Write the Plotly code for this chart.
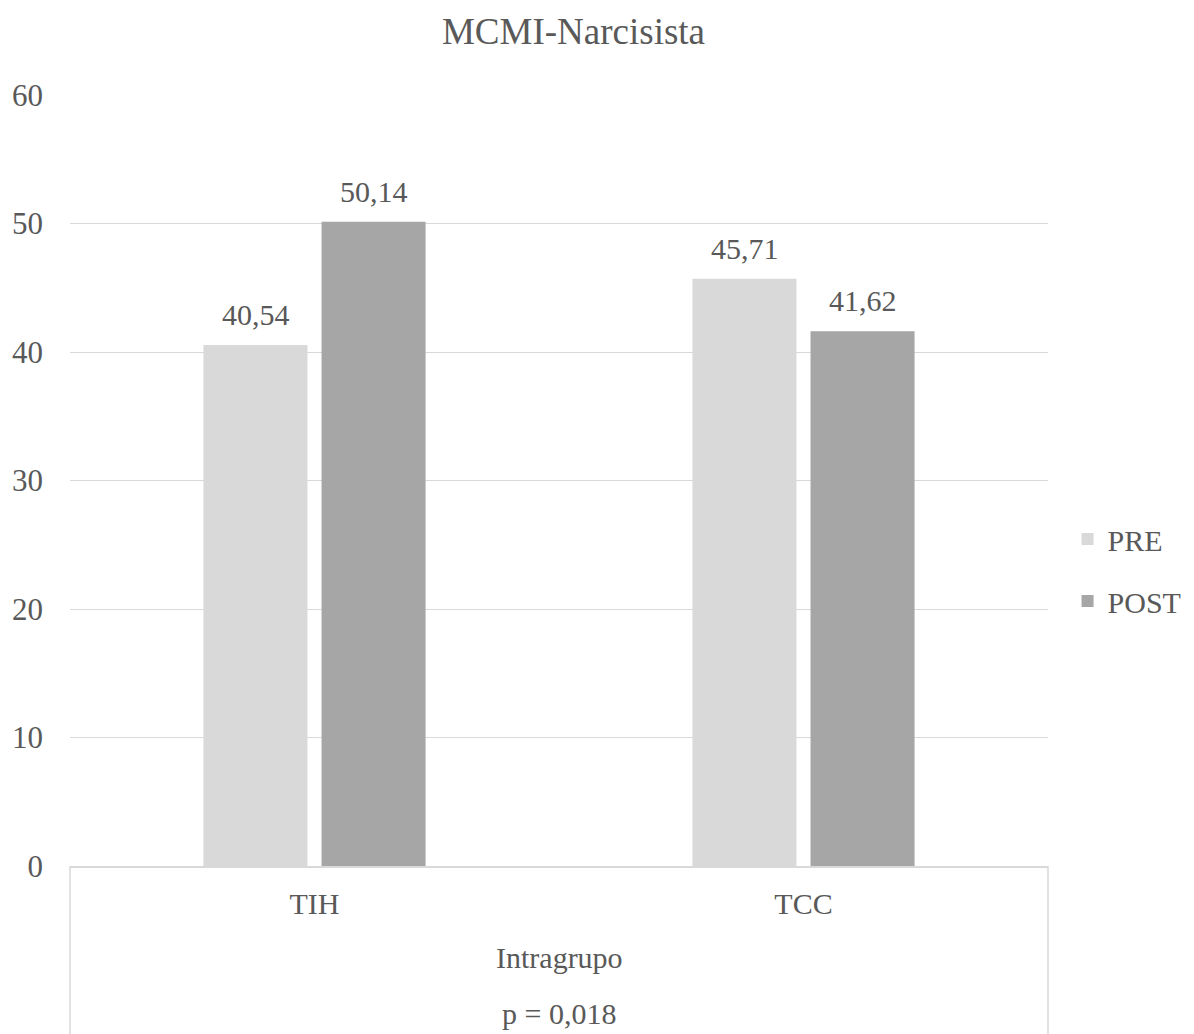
import plotly.graph_objects as go

categories = ["TIH", "TCC"]
pre_values = [40.54, 45.71]
post_values = [50.14, 41.62]
pre_labels = ["40,54", "45,71"]
post_labels = ["50,14", "41,62"]
series_names = ["PRE", "POST"]
y_ticks = [0, 10, 20, 30, 40, 50, 60]
title_text = "MCMI-Narcisista"
group_label = "Intragrupo"
p_label = "p = 0,018"

FONT = "Liberation Serif, Times New Roman, serif"
TXT = "#595959"
GRID = "#d9d9d9"

W, H = 1194, 1034
ML, MR, MT, MB = 70, 146, 95, 168
plot_h = H - MT - MB

def py(ypix):
    return (H - MB - ypix) / plot_h

BAR_SHIFT = 59  # px offset of each bar from its category centre

fig = go.Figure()
fig.add_trace(go.Bar(
    x=categories, y=pre_values, name=series_names[0],
    marker=dict(color="#d9d9d9", line=dict(width=0)),
    legendgroup="a",
))
fig.add_trace(go.Bar(
    x=categories, y=post_values, name=series_names[1],
    marker=dict(color="#a6a6a6", line=dict(width=0)),
    legendgroup="b",
))

annotations = []
for cat, v, lab in zip(categories, pre_values, pre_labels):
    annotations.append(dict(text=lab, x=cat, y=v, xref="x", yref="y",
                            xshift=-BAR_SHIFT, yshift=12, xanchor="center",
                            yanchor="bottom", showarrow=False,
                            font=dict(family=FONT, size=30, color=TXT)))
for cat, v, lab in zip(categories, post_values, post_labels):
    annotations.append(dict(text=lab, x=cat, y=v, xref="x", yref="y",
                            xshift=BAR_SHIFT, yshift=12, xanchor="center",
                            yanchor="bottom", showarrow=False,
                            font=dict(family=FONT, size=30, color=TXT)))
annotations += [
    dict(text=group_label, xref="paper", yref="paper", x=0.5, y=py(957),
         xanchor="center", yanchor="middle", showarrow=False,
         font=dict(family=FONT, size=30, color=TXT)),
    dict(text=p_label, xref="paper", yref="paper", x=0.5, y=py(1013),
         xanchor="center", yanchor="middle", showarrow=False,
         font=dict(family=FONT, size=30, color=TXT)),
]

fig.update_layout(
    width=W, height=H,
    margin=dict(l=ML, r=MR, t=MT, b=MB, autoexpand=False),
    paper_bgcolor="white", plot_bgcolor="white",
    font=dict(family=FONT, size=30, color=TXT),
    barmode="group", bargap=0.517, bargroupgap=0.119,
    title=dict(text=title_text, x=573.5 / W, xref="container", xanchor="center",
               y=1 - 31 / H, yref="container", yanchor="middle",
               font=dict(family=FONT, size=37, color=TXT)),
    legend=dict(x=1.02, xanchor="left", y=py(570), yanchor="middle",
                font=dict(family=FONT, size=30, color=TXT),
                traceorder="grouped", tracegroupgap=20,
                bgcolor="rgba(0,0,0,0)"),
    shapes=[
        dict(type="line", xref="paper", yref="paper", x0=0, x1=0, y0=0, y1=-MB / plot_h,
             line=dict(color=GRID, width=1.5)),
        dict(type="line", xref="paper", yref="paper", x0=1, x1=1, y0=0, y1=-MB / plot_h,
             line=dict(color=GRID, width=1.5)),
    ],
    annotations=annotations,
)
fig.update_xaxes(
    showgrid=False, showline=True, linecolor=GRID, linewidth=1.5,
    ticks="", tickfont=dict(family=FONT, size=30, color=TXT),
    ticklabelstandoff=10,
)
fig.update_yaxes(
    range=[0, 60], tickvals=y_ticks, showgrid=True, gridcolor=GRID, gridwidth=1,
    zeroline=False, showline=False, ticks="",
    tickfont=dict(family=FONT, size=31, color=TXT),
    ticklabelstandoff=26,
)

fig.write_html("out.html", config={"displayModeBar": False},
               post_script="document.body.style.margin='0';document.body.style.padding='0';")
